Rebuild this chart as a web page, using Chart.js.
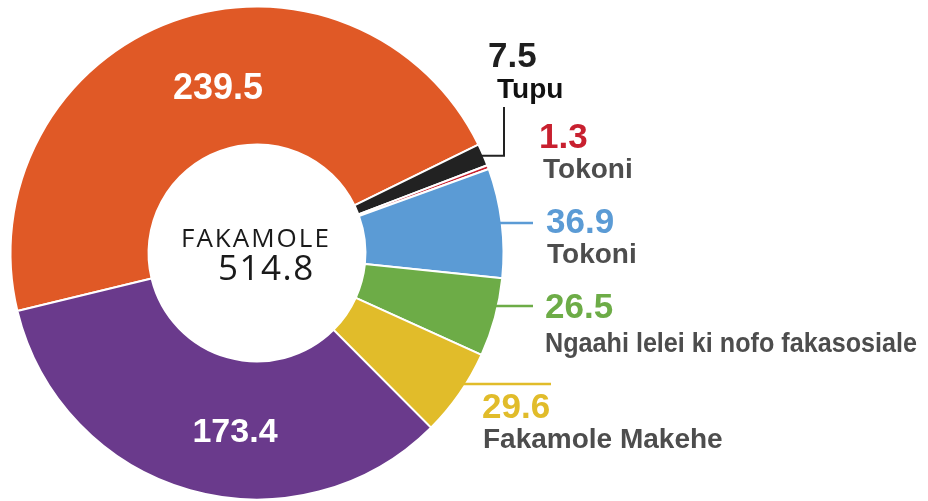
<!DOCTYPE html>
<html>
<head>
<meta charset="utf-8">
<script src="https://cdn.jsdelivr.net/npm/chart.js@4/dist/chart.umd.min.js"></script>
<style>
  html, body { margin: 0; padding: 0; background: #fff; }
  #wrap { width: 928px; height: 501px; }
</style>
</head>
<body>
<div id="wrap"><canvas id="myChart" width="928" height="501"></canvas></div>
<script>
// data
var categories = ['', 'Tupu', 'Tokoni', 'Tokoni', 'Ngaahi lelei ki nofo fakasosiale', 'Fakamole Makehe', ''];
var values = [239.5, 7.5, 1.3, 36.9, 26.5, 29.6, 173.4];
var totalTitle = 'FAKAMOLE';
var totalValue = '514.8';

var sliceColors = ['#E05926', '#222222', '#C8202F', '#5B9BD5', '#6DAC47', '#E1BC2A', '#6A3A8C'];
var valueColors = ['#ffffff', '#1f1f1f', '#C8202F', '#5B9BD5', '#6DAC47', '#E1BC2A', '#ffffff'];
var nameColors = ['', '#111111', '#4d4d4d', '#4d4d4d', '#4d4d4d', '#4d4d4d', ''];

// where the texts sit (left x, baseline y) and how the leader lines run
var placing = [
  { vx: 218, vy: 99, align: 'center', vsize: 36 },
  { vx: 488, vy: 67, nx: 497, ny: 98, lead: 'elbow', elbowX: 504, topY: 107 },
  { vx: 539, vy: 148, nx: 543, ny: 178 },
  { vx: 546, vy: 233, nx: 547, ny: 263, lead: 'flat', ly: 223, endX: 533 },
  { vx: 545, vy: 318, nx: 545, ny: 352, lead: 'flat', ly: 306, endX: 533, maxW: 372 },
  { vx: 482, vy: 418, nx: 483, ny: 448, lead: 'flat', ly: 384, endX: 551 },
  { vx: 235, vy: 442, align: 'center', vsize: 34 }
];

var boldFont = '"Liberation Sans", Arial, sans-serif';

var labelPlugin = {
  id: 'labelPlugin',
  afterDraw: function (chart) {
    var ctx = chart.ctx;
    var arcs = chart.getDatasetMeta(0).data;
    ctx.save();

    // leader lines
    arcs.forEach(function (arc, i) {
      var p = placing[i];
      if (!p.lead) return;
      var R = arc.outerRadius - 2;
      ctx.strokeStyle = sliceColors[i];
      ctx.lineWidth = 2;
      ctx.beginPath();
      if (p.lead === 'elbow') {
        var mid = (arc.startAngle + arc.endAngle) / 2;
        var sx = arc.x + Math.cos(mid) * R;
        var sy = arc.y + Math.sin(mid) * R;
        ctx.moveTo(sx, sy);
        ctx.lineTo(p.elbowX, sy);
        ctx.lineTo(p.elbowX, p.topY);
      } else {
        var dy = p.ly - arc.y;
        var ex = arc.x + Math.sqrt(Math.max(R * R - dy * dy, 0));
        ctx.lineWidth = 2.5;
        ctx.moveTo(ex, p.ly);
        ctx.lineTo(p.endX, p.ly);
      }
      ctx.stroke();
    });

    // values and names
    arcs.forEach(function (arc, i) {
      var p = placing[i];
      ctx.textBaseline = 'alphabetic';
      ctx.textAlign = p.align || 'left';
      ctx.fillStyle = valueColors[i];
      ctx.font = 'bold ' + (p.vsize || 35) + 'px ' + boldFont;
      ctx.fillText(values[i].toFixed(1), p.vx, p.vy);
      if (categories[i]) {
        ctx.textAlign = 'left';
        ctx.fillStyle = nameColors[i];
        ctx.font = 'bold 28px ' + boldFont;
        if (p.maxW) ctx.fillText(categories[i], p.nx, p.ny, p.maxW);
        else ctx.fillText(categories[i], p.nx, p.ny);
      }
    });

    // total in the hole
    ctx.fillStyle = '#1a1a1a';
    ctx.textAlign = 'left';
    ctx.font = '26px "Open Sans", sans-serif';
    ctx.letterSpacing = '2px';
    ctx.fillText(totalTitle, 181, 247);
    ctx.font = '35px "Open Sans", sans-serif';
    ctx.letterSpacing = '1.5px';
    ctx.fillText(totalValue, 218, 280);
    ctx.restore();
  }
};

var ctx = document.getElementById('myChart');
var myChart = new Chart(ctx, {
  type: 'doughnut',
  data: {
    labels: categories,
    datasets: [
      {
        data: values,
        backgroundColor: sliceColors,
        borderColor: '#ffffff',
        borderWidth: 2,
        hoverOffset: 0
      }
    ]
  },
  options: {
    responsive: false,
    animation: false,
    devicePixelRatio: 1,
    rotation: -103.6,
    cutout: '44%',
    layout: {
      padding: { left: 9.5, top: 5.5, right: 423.5, bottom: 0.5 }
    },
    plugins: {
      legend: { display: false },
      tooltip: { enabled: false }
    }
  },
  plugins: [labelPlugin]
});
</script>
</body>
</html>
